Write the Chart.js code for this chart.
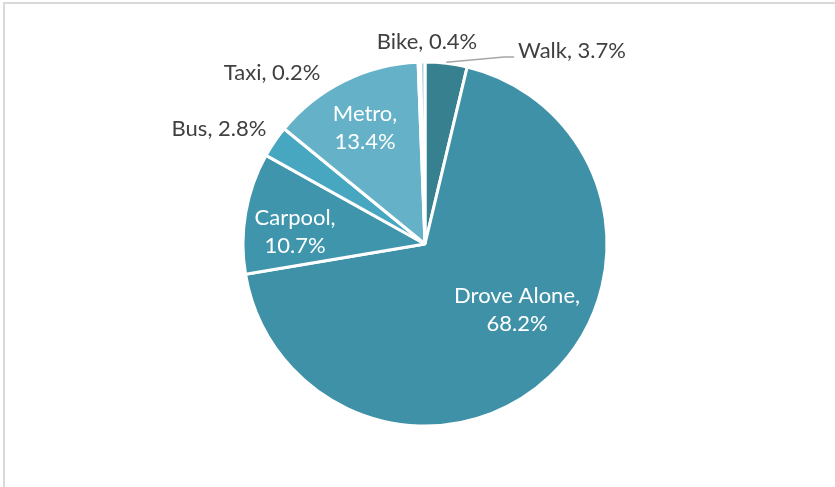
<!DOCTYPE html>
<html>
<head>
<meta charset="utf-8">
<script src="https://cdn.jsdelivr.net/npm/chart.js@4/dist/chart.umd.min.js"></script>
<style>
  html, body { margin: 0; padding: 0; background: #ffffff; }
  #wrap { position: relative; width: 835px; height: 487px; overflow: hidden; }
  #frame { position: absolute; left: 3px; top: 2px; width: 900px; height: 600px;
           border-top: 2px solid #d9d9d9; border-left: 2px solid #d9d9d9; box-sizing: border-box; }
  canvas { position: absolute; left: 0; top: 0; }
</style>
</head>
<body>
<div id="wrap">
  <div id="frame"></div>
  <canvas id="c" width="835" height="487"></canvas>
</div>
<script>
// Data
const categories = ['Walk', 'Drove Alone', 'Carpool', 'Bus', 'Metro', 'Taxi', 'Bike'];
const shares = [3.7, 68.2, 10.7, 2.8, 13.4, 0.2, 0.4];

// Styles
const sliceColors = ['#36808f', '#3f91a7', '#3f95ac', '#47a6c0', '#64b1c8', '#c9e2ea', '#a9d1dd'];
// label placement: [angle offset from slice middle (deg), radius factor, inside?, two lines?]
const labelPlacement = [
  [30.6, 1.333, false, false],
  [-11.3, 0.622, true, true],
  [-4.5, 0.717, true, true],
  [-5.0, 1.297, false, false],
  [-0.9, 0.717, true, true],
  [-40.0, 1.26, false, false],
  [1.3, 1.11, false, false]
];
const FONT = '22px Lato, "Open Sans", sans-serif';

const labelPlugin = {
  id: 'sliceLabels',
  afterDatasetsDraw(chart) {
    const ctx = chart.ctx;
    const meta = chart.getDatasetMeta(0);
    ctx.save();
    ctx.font = FONT;
    ctx.textAlign = 'center';
    ctx.textBaseline = 'middle';
    meta.data.forEach((arc, i) => {
      const p = arc.getProps(['x', 'y', 'startAngle', 'endAngle', 'outerRadius'], true);
      const [dAng, rf, inside, twoLines] = labelPlacement[i];
      const mid = (p.startAngle + p.endAngle) / 2;
      const a = mid + dAng * Math.PI / 180;
      const lx = p.x + Math.cos(a) * p.outerRadius * rf;
      const ly = p.y + Math.sin(a) * p.outerRadius * rf;
      const name = categories[i] + ',';
      const val = shares[i].toFixed(1) + '%';
      ctx.fillStyle = inside ? '#ffffff' : '#404040';
      if (twoLines) {
        ctx.fillText(name, lx, ly - 14);
        ctx.fillText(val, lx, ly + 14);
      } else {
        const txt = name + ' ' + val;
        ctx.fillText(txt, lx, ly);
        if (i === 0) {
          // leader line from slice edge to label
          const w = ctx.measureText(txt).width;
          const sx = p.x + Math.cos(mid) * (p.outerRadius + 1);
          const sy = p.y + Math.sin(mid) * (p.outerRadius + 1);
          const ex = lx - w / 2 - 4;
          const ey = ly + 6;
          ctx.strokeStyle = '#a6a6a6';
          ctx.lineWidth = 1.5;
          ctx.beginPath();
          ctx.moveTo(sx, sy);
          ctx.lineTo(ex - 10, ey);
          ctx.lineTo(ex, ey);
          ctx.stroke();
        }
      }
    });
    ctx.restore();
  }
};

new Chart(document.getElementById('c'), {
  type: 'pie',
  data: {
    labels: categories,
    datasets: [{
      data: shares,
      backgroundColor: sliceColors,
      borderColor: '#ffffff',
      borderWidth: 3
    }]
  },
  options: {
    responsive: false,
    animation: false,
    radius: 182,
    layout: { padding: { left: 243, right: 228, top: 62, bottom: 61 } },
    plugins: { legend: { display: false }, tooltip: { enabled: false } }
  },
  plugins: [labelPlugin]
});
</script>
</body>
</html>
